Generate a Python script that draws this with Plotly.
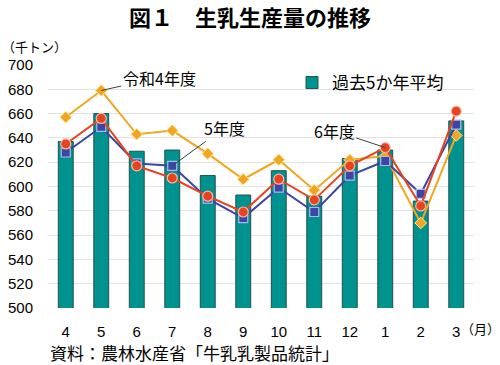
import plotly.graph_objects as go

months = ["4", "5", "6", "7", "8", "9", "10", "11", "12", "1", "2", "3"]
avg5 = [637, 660, 629, 630, 609, 593, 613, 592, 623, 630, 588, 654]
r4 = [657, 679, 643, 646, 627, 606, 622, 597, 622, 625, 570, 642]
r5 = [628, 649, 619, 617, 590, 574, 599, 579, 609, 621, 594, 651]
r6 = [635, 656, 617, 607, 592, 579, 606, 589, 617, 632, 584, 662]

FONT = "Noto Sans CJK JP"
L, R, T, B = 48, 26, 65, 57
W, H = 500, 365
PW, PH = W - L - R, H - T - B


def fx(px):
    return (px - L) / PW


def fy(py):
    return (H - B - py) / PH


fig = go.Figure()
fig.add_trace(go.Bar(
    x=months, y=avg5, name="過去5か年平均", width=0.42,
    marker=dict(color="#00928E", line=dict(color="#21504E", width=1)),
))
fig.add_trace(go.Scatter(
    x=months, y=r4, mode="lines+markers", showlegend=False,
    line=dict(color="#F2A51F", width=2),
    marker=dict(symbol="diamond", size=9, color="#F2A51F", line=dict(color="#FFE39A", width=1)),
))
fig.add_trace(go.Scatter(
    x=months, y=r5, mode="lines+markers", showlegend=False,
    line=dict(color="#3D45A5", width=2),
    marker=dict(symbol="square", size=9, color="#3D45A5", line=dict(color="#A9BDEB", width=1.2)),
))
fig.add_trace(go.Scatter(
    x=months, y=r6, mode="lines+markers", showlegend=False,
    line=dict(color="#E8431E", width=2),
    marker=dict(symbol="circle", size=10, color="#E8431E", line=dict(color="#F7B9A8", width=1.2)),
))

ann = [
    dict(i=1, y=r4[1], text="令和4年度", ax=58, ay=-13),
    dict(i=3, y=r5[3], text="5年度", ax=52, ay=-38),
    dict(i=9, y=r6[9], text="6年度", ax=-51, ay=-17),
]
annotations = []
for a in ann:
    annotations.append(dict(
        x=a["i"], y=a["y"], xref="x", yref="y", text=a["text"], showarrow=True,
        ax=a["ax"], ay=a["ay"], arrowhead=0, arrowwidth=1, arrowcolor="#404040",
        standoff=0, font=dict(family=FONT, size=16, color="#000000"),
    ))
annotations += [
    dict(x=fx(250), y=fy(16), xref="paper", yref="paper", xanchor="center", yanchor="middle",
         text="<b>図１　生乳生産量の推移</b>", showarrow=False, borderpad=0,
         font=dict(family=FONT, size=22, color="#000000")),
    dict(x=fx(0), y=fy(47), xref="paper", yref="paper", xanchor="left", yanchor="middle",
         text="（千トン）", showarrow=False, font=dict(family=FONT, size=13, color="#000000")),
    dict(x=fx(481), y=fy(328), xref="paper", yref="paper", xanchor="center", yanchor="middle",
         text="（月）", showarrow=False, borderpad=0, font=dict(family=FONT, size=13, color="#000000")),
    dict(x=fx(49), y=fy(352), xref="paper", yref="paper", xanchor="left", yanchor="middle",
         text="資料：農林水産省「牛乳乳製品統計」", showarrow=False, borderpad=0,
         font=dict(family=FONT, size=17, color="#000000")),
]

fig.update_layout(
    width=W, height=H,
    margin=dict(l=L, r=R, t=T, b=B, autoexpand=False),
    paper_bgcolor="white", plot_bgcolor="white",
    font=dict(family=FONT, color="#000000"),
    showlegend=True,
    legend=dict(x=fx(292), y=1.0, xanchor="left", yanchor="top",
                font=dict(family=FONT, size=17, color="#000000"), bgcolor="rgba(0,0,0,0)"),
    annotations=annotations,
    bargap=0.5,
)
fig.update_xaxes(
    type="category", range=[-0.5, 11.5], showgrid=False, showline=False, zeroline=False,
    tickfont=dict(family="Liberation Sans", size=15, color="#000000"),
    ticks="outside", ticklen=10, tickcolor="rgba(0,0,0,0)", automargin=False,
)
fig.update_yaxes(
    range=[500, 700], dtick=20, showgrid=True, gridcolor="#E3E3E3", gridwidth=1,
    zeroline=False, showline=False,
    tickfont=dict(family="Liberation Sans", size=15, color="#000000"),
    ticks="outside", ticklen=11, tickcolor="rgba(0,0,0,0)", automargin=False,
)
fig.write_html("out.html", config={"displayModeBar": False},
               post_script="document.body.style.margin='0';")
